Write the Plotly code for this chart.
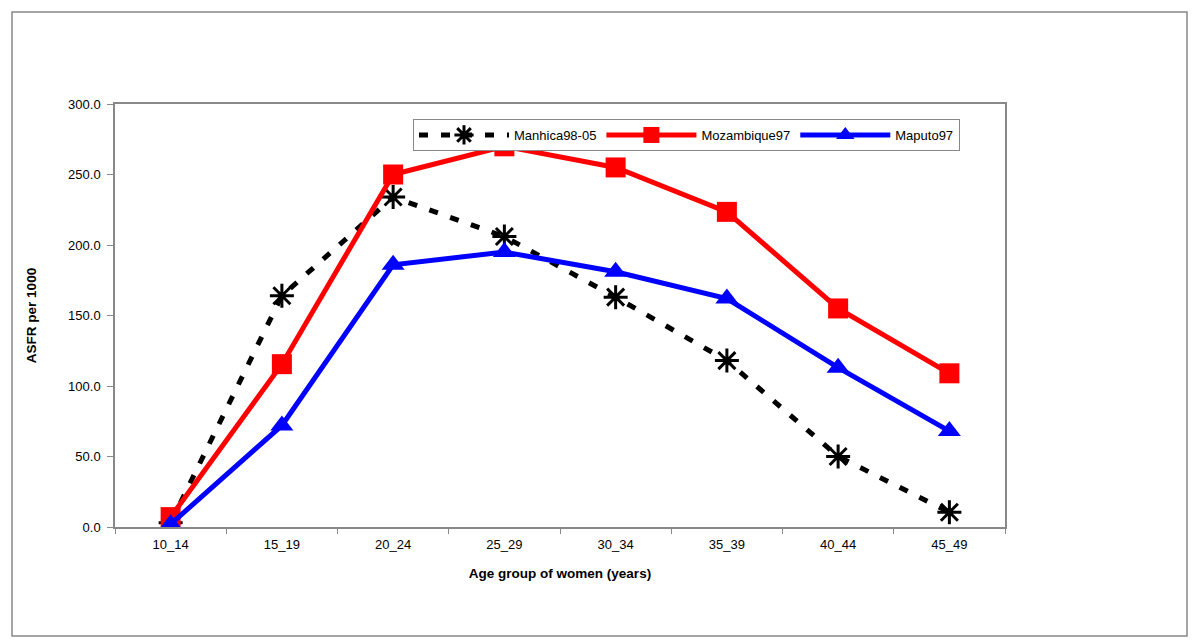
import plotly.graph_objects as go

categories = ["10_14", "15_19", "20_24", "25_29", "30_34", "35_39", "40_44", "45_49"]
manhica = [3.0, 164.0, 234.0, 206.0, 163.0, 118.0, 50.0, 10.5]
mozambique = [7.0, 115.5, 250.0, 270.0, 255.0, 223.5, 155.0, 109.0]
maputo = [2.0, 72.0, 186.0, 195.0, 181.0, 162.0, 113.0, 68.0]
y_ticks = [0, 50, 100, 150, 200, 250, 300]

FONT = "Liberation Sans, Arial, sans-serif"

fig = go.Figure()
fig.add_trace(go.Scatter(
    x=categories, y=manhica, name="Manhica98-05", mode="lines+markers",
    line=dict(color="black", width=5, dash="9px,13px"),
    marker=dict(symbol="asterisk-open", size=20, color="black",
                line=dict(color="black", width=3)),
    legendrank=1,
))
fig.add_trace(go.Scatter(
    x=categories, y=mozambique, name="Mozambique97", mode="lines+markers",
    line=dict(color="#ff0000", width=5),
    marker=dict(symbol="square", size=20, color="#ff0000"),
    legendrank=2,
))
fig.add_trace(go.Scatter(
    x=categories, y=maputo, name="Maputo97", mode="lines+markers",
    line=dict(color="#0000ff", width=5),
    marker=dict(symbol="triangle-up", size=20, color="#0000ff"),
    legendrank=3,
))

# page has an 8px body margin; compensate
OFF = 8
W, H = 1200, 644
L, T = 115 - OFF, 104 - OFF
R = W - (1005 - OFF)
B = H - (527 - OFF)
pw, ph = W - L - R, H - T - B


def px_x(p):
    return (p - OFF - L) / pw


def px_y(p):
    return 1 - (p - OFF - T) / ph


fig.update_layout(
    width=W, height=H,
    margin=dict(l=L, r=R, t=T, b=B),
    paper_bgcolor="white", plot_bgcolor="white",
    font=dict(family=FONT, size=13, color="black"),
    showlegend=True,
    legend=dict(
        orientation="h", x=px_x(413), y=px_y(119),
        xanchor="left", yanchor="top",
        bordercolor="#888888", borderwidth=1, bgcolor="white",
        font=dict(family=FONT, size=13, color="black"),
        itemwidth=90, tracegroupgap=0,
    ),
    xaxis=dict(
        type="category", range=[-0.5, 7.5],
        showline=True, linecolor="#888888", linewidth=1.5, mirror=True,
        ticks="outside", ticklen=5, tickcolor="#888888",
        tickson="boundaries", showgrid=False, zeroline=False,
        tickfont=dict(family=FONT, size=13),
        ticklabelstandoff=5,
        title=dict(text="<b>Age group of women (years)</b>",
                   font=dict(family=FONT, size=13.5), standoff=17),
    ),
    yaxis=dict(
        range=[0, 300], tickvals=y_ticks, tickformat=".1f",
        showline=True, linecolor="#888888", linewidth=1.5, mirror=True,
        ticks="outside", ticklen=6, tickcolor="#888888",
        showgrid=False, zeroline=False,
        tickfont=dict(family=FONT, size=13),
        ticklabelstandoff=4,
        title=dict(text="<b>ASFR per 1000</b>",
                   font=dict(family=FONT, size=13.5), standoff=28),
    ),
    shapes=[dict(
        type="rect", xref="paper", yref="paper",
        x0=px_x(12), x1=px_x(1187),
        y0=px_y(636), y1=px_y(12),
        line=dict(color="#888888", width=1.5), fillcolor="rgba(0,0,0,0)",
        layer="below",
    )],
)

fig.write_html("out.html")
